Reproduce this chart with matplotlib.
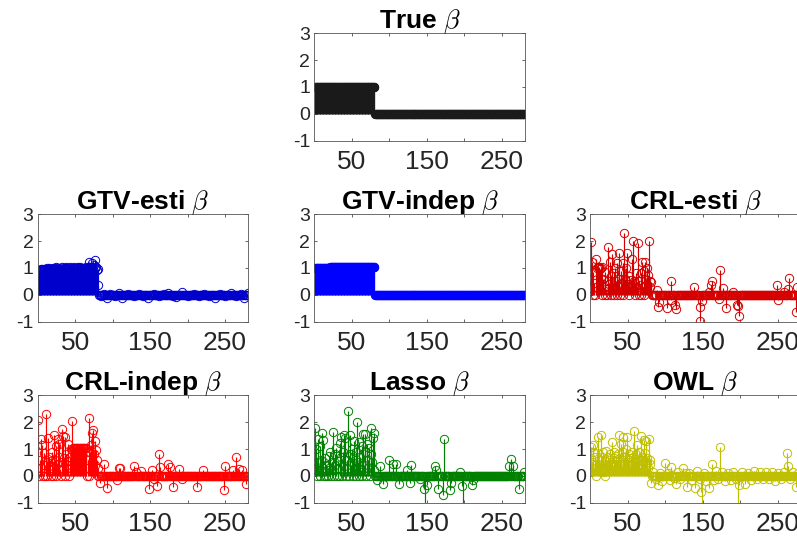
# -*- coding: utf-8 -*-
"""Stem plots of the true beta and the estimates of six methods."""

import numpy as np
import matplotlib.pyplot as plt

plt.rcParams['font.family'] = ['Liberation Sans', 'DejaVu Sans']
plt.rcParams['mathtext.fontset'] = 'cm'

p = 280
n_sig = 80
idx = np.arange(1, p + 1)

# values for the first 80 (active) coefficients
true_sig = [1.0] * 80
gtv_indep_sig = [1.0] * 20 + [1.04] * 60
gtv_esti_sig = [0.75, 0.92, 0.88, 0.95, 0.90, 0.97, 0.93, 0.98, 0.91, 0.96,
                0.94, 0.99, 0.92, 0.97, 1.00, 0.95, 0.93, 0.98, 0.96, 1.01,
                0.94, 0.97, 0.99, 0.95, 1.02, 0.96, 0.93, 0.98, 1.00, 0.97,
                0.95, 1.03, 0.98, 0.96, 1.00, 0.94, 0.99, 1.02, 0.97, 0.95,
                1.00, 0.98, 1.03, 0.96, 0.94, 0.99, 1.01, 0.97, 1.04, 0.98,
                0.95, 1.00, 0.97, 1.02, 0.99, 0.96, 1.03, 0.98, 1.00, 0.94,
                0.97, 1.01, 0.99, 0.95, 1.05, 0.98, 1.00, 1.02, 1.22, 0.97,
                1.00, 1.18, 1.05, 0.96, 1.12, 0.99, 1.28, 1.02, 0.93, 0.95]
crl_esti_sig = [1.95, 1.24, 0.86, 0.0, 0.45, 0.0, 1.32, 0.30, 1.00, 1.02,
                1.00, 1.05, 0.98, 1.00, 1.02, 0.0, 0.60, 0.30, 0.0, 0.85,
                0.20, 0.0, 0.50, 1.80, 0.40, 1.24, 0.0, 0.70, 1.52, 0.35,
                0.0, 0.80, 1.00, 0.50, 0.0, 1.20, 0.60, 1.55, 0.30, 0.0,
                0.90, 0.45, 1.20, 0.0, 2.30, 0.60, 0.25, 1.00, 1.57, 0.40,
                0.0, 0.70, 0.30, 0.55, 1.32, 0.20, 2.00, 0.50, 0.0, 0.45,
                0.80, 0.30, 1.93, 0.50, 0.0, 0.35, 0.80, 0.0, 1.24, 0.30,
                0.90, 0.0, 1.24, 0.55, 1.00, 0.20, 0.75, 2.02, 0.30, 0.50]
crl_indep_sig = [2.07, 0.0, 0.60, 1.36, 0.30, 1.15, 0.0, 0.85, 0.40, 0.0,
                 2.32, 0.50, 0.0, 1.40, 0.70, 0.20, 0.55, 0.0, 0.90, 0.35,
                 0.0, 1.52, 0.60, 1.10, 0.0, 0.45, 1.38, 0.70, 1.20, 0.25,
                 0.0, 1.74, 0.50, 1.50, 0.65, 1.45, 0.0, 0.80, 0.30, 1.20,
                 0.55, 0.0, 0.70, 0.40, 1.00, 2.04, 1.02, 1.02, 1.02, 1.02,
                 1.02, 1.02, 1.02, 1.02, 1.02, 1.02, 1.02, 1.02, 1.02, 1.02,
                 1.02, 1.02, 1.02, 1.02, 1.02, 0.0, 0.60, 2.14, 0.0, 0.90,
                 1.15, 1.60, 0.50, 1.70, 0.80, 1.30, 0.40, 0.95, 0.60, 0.30]
lasso_sig = [1.77, 1.00, 0.0, 0.50, 1.36, 0.20, 1.10, 0.0, 0.60, 1.58,
             0.30, 1.33, 0.0, 0.65, 0.0, 0.40, 0.20, 0.0, 0.75, 0.30,
             0.90, 0.0, 0.50, 0.20, 1.64, 0.0, 0.40, 0.80, 1.02, 0.0,
             0.55, 0.30, 0.0, 1.23, 0.70, 1.46, 0.0, 0.90, 1.52, 0.35,
             1.40, 0.0, 0.60, 0.25, 2.42, 0.0, 0.80, 1.52, 0.40, 1.00,
             0.0, 0.65, 1.30, 0.30, 0.0, 0.90, 1.99, 0.50, 0.0, 1.27,
             0.70, 0.20, 1.10, 0.0, 1.56, 0.40, 1.56, 0.90, 0.0, 1.20,
             0.60, 0.30, 1.05, 0.0, 0.80, 1.80, 0.50, 1.40, 1.58, 0.20]
owl_sig = [1.08, 0.53, 0.90, 1.15, 0.30, 0.70, 0.0, 0.45, 0.85, 1.46,
           0.60, 0.20, 0.40, 1.52, 0.70, 0.30, 0.90, 0.15, 0.55, 0.0,
           0.93, 0.40, 0.70, 0.25, 0.60, 0.80, 0.35, 0.50, 1.27, 0.20,
           0.65, 0.90, 0.40, 0.75, 0.30, 0.55, 0.80, 1.52, 0.45, 0.60,
           1.20, 0.35, 0.90, 1.46, 0.50, 0.70, 1.00, 0.30, 1.46, 0.60,
           0.40, 0.80, 0.25, 0.65, 0.90, 0.45, 0.70, 1.68, 0.50, 0.35,
           0.80, 1.15, 0.40, 0.60, 0.90, 0.30, 0.55, 1.50, 0.70, 0.40,
           1.33, 0.60, 0.85, 1.30, 0.50, 0.65, 0.30, 1.36, 0.45, 0.60]

# non-zero coefficients outside the support (index, value)
gtv_esti_null_i = [81, 84, 88, 92, 97, 103, 109, 113, 120, 128, 135, 141, 147,
                   155, 162, 168, 174, 180, 185, 192, 200, 208, 215, 222, 229,
                   236, 243, 250, 258, 265, 271, 275, 280]
gtv_esti_null_v = [0.38, -0.05, 0.03, -0.12, 0.02, -0.04, 0.05, -0.10, 0.03,
                   -0.06, 0.04, -0.03, -0.10, 0.03, -0.05, 0.04, 0.07, -0.04,
                   -0.08, 0.10, -0.03, 0.04, -0.05, 0.03, -0.06, -0.10, 0.02,
                   -0.04, 0.05, -0.03, 0.04, -0.12, 0.05]
crl_esti_null_i = [81, 89, 90, 92, 102, 107, 108, 113, 114, 139, 146, 147, 149,
                   159, 161, 162, 172, 173, 177, 181, 190, 196, 197, 198, 249,
                   250, 258, 264, 265, 274, 276]
crl_esti_null_v = [0.49, 0.18, -0.45, -0.26, -0.48, -0.20, 0.51, -0.39, -0.51,
                   0.30, -0.45, -0.98, -0.22, 0.11, 0.35, 0.52, -0.16, 0.93,
                   0.27, -0.49, 0.11, -0.39, -0.41, -0.78, 0.36, -0.20, 0.11,
                   0.20, 0.61, -0.64, 0.30]
crl_indep_null_i = [83, 89, 92, 106, 108, 110, 129, 131, 138, 148, 152, 155,
                    159, 162, 163, 174, 176, 180, 189, 192, 212, 220, 249, 250,
                    260, 264, 269, 273, 278]
crl_indep_null_v = [-0.27, 0.44, -0.46, -0.17, 0.28, 0.28, 0.38, 0.16, 0.19,
                    -0.49, 0.22, -0.12, -0.36, 0.81, 0.32, 0.44, 0.32, -0.40,
                    0.25, -0.12, -0.40, 0.22, -0.54, 0.37, 0.20, 0.69, 0.25,
                    0.22, -0.30]
lasso_null_i = [83, 88, 92, 100, 105, 109, 113, 123, 128, 129, 141, 147, 148,
                150, 161, 163, 165, 172, 173, 181, 183, 195, 197, 198, 210,
                212, 260, 263, 265, 273, 280]
lasso_null_v = [-0.17, 0.37, -0.30, 0.59, 0.44, 0.44, -0.30, 0.22, -0.25,
                0.41, -0.12, -0.49, -1.30, -0.33, 0.37, 0.22, -0.49, -0.70,
                1.37, -0.52, -0.25, 0.16, -0.36, -1.20, -0.33, -0.15, 0.37,
                0.62, 0.37, -0.49, 0.16]
owl_null_i = [81, 84, 87, 90, 93, 96, 100, 103, 106, 108, 111, 114, 117, 120,
              124, 127, 129, 132, 136, 140, 143, 146, 148, 149, 152, 155, 159,
              162, 165, 168, 171, 173, 176, 180, 184, 188, 191, 195, 197, 199,
              203, 207, 211, 215, 219, 223, 227, 231, 235, 239, 243, 247, 251,
              255, 259, 263, 264, 267, 271, 274, 277]
owl_null_v = [-0.27, 0.15, -0.10, -0.33, 0.12, -0.18, 0.47, 0.10, -0.15,
              0.32, -0.08, -0.31, 0.14, -0.12, 0.28, 0.10, -0.40, 0.12, -0.15,
              -0.46, 0.18, -0.12, -0.62, -1.30, 0.10, -0.20, -0.46, 0.44,
              -0.15, 0.18, -0.10, 1.08, 0.15, -0.18, 0.12, -0.14, 0.16, -0.12,
              -1.30, -0.33, 0.14, -0.31, 0.12, -0.15, 0.18, -0.10, 0.15, -0.12,
              0.16, -0.10, 0.14, -0.18, 0.12, -0.10, 0.15, 0.84, 0.35, -0.12,
              0.16, -0.43, 0.10]


def full(sig, null_i=(), null_v=()):
    b = np.zeros(p)
    b[:n_sig] = sig
    if len(null_i):
        b[np.array(null_i) - 1] = null_v
    return b


panels = [
    ('True', full(true_sig), '#1a1a1a', True),
    ('GTV-esti', full(gtv_esti_sig, gtv_esti_null_i, gtv_esti_null_v), '#0000cc', False),
    ('GTV-indep', full(gtv_indep_sig), '#0000ff', True),
    ('CRL-esti', full(crl_esti_sig, crl_esti_null_i, crl_esti_null_v), '#d40000', False),
    ('CRL-indep', full(crl_indep_sig, crl_indep_null_i, crl_indep_null_v), '#ff0000', False),
    ('Lasso', full(lasso_sig, lasso_null_i, lasso_null_v), '#008000', False),
    ('OWL', full(owl_sig, owl_null_i, owl_null_v), '#bfbf00', False),
]

# axes boxes in figure fractions: (left, bottom)
lefts = [0.0473, 0.3944, 0.7407]
bottoms = [0.740, 0.4054, 0.0708]
slots = [(1, 0), (0, 1), (1, 1), (2, 1), (0, 2), (1, 2), (2, 2)]
w, h = 0.2642, 0.1985

fig = plt.figure(figsize=(7.97, 5.41), dpi=100)

for (name, beta, color, filled), (c, r) in zip(panels, slots):
    ax = fig.add_axes([lefts[c], bottoms[r], w, h])
    ax.vlines(idx, 0, beta, colors=color, lw=0.85)
    ax.plot(idx, beta, 'o', ms=6, mec=color, mew=0.7,
            mfc=color if filled else 'none')
    ax.set_xlim(0, 281)
    ax.set_ylim(-1, 3)
    ax.set_xticks([50, 100, 150, 200, 250])
    ax.set_xticklabels(['50', '', '150', '', '250'], fontsize=19)
    ax.set_yticks([-1, 0, 1, 2, 3])
    ax.set_yticklabels(['-1', '0', '1', '2', '3'], fontsize=14)
    ax.tick_params(direction='in', top=True, right=True, length=2.5,
                   width=0.5, colors='#262626')
    ax.tick_params(axis='x', pad=7)
    ax.tick_params(axis='y', pad=3)
    for s in ax.spines.values():
        s.set_color('#555555')
        s.set_linewidth(0.6)
    ax.set_title(name + r' $\beta$', fontsize=19, fontweight='bold', pad=4)

plt.savefig('out.png', dpi=100)
